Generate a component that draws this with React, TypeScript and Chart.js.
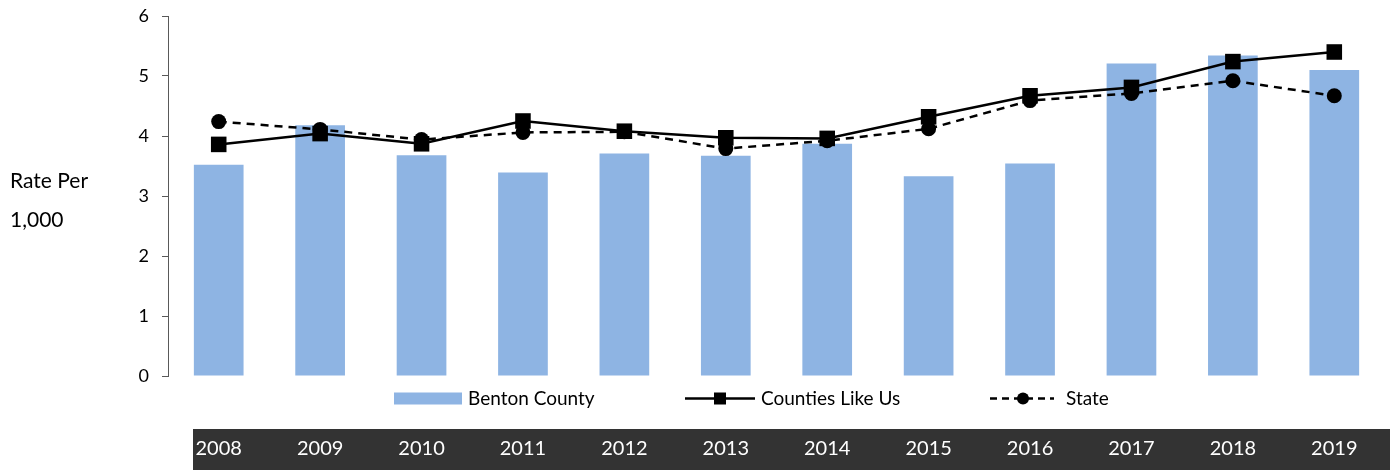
import React, { useEffect, useRef } from "react";
import { Chart, registerables } from "chart.js";

Chart.register(...registerables);

const years = ["2008", "2009", "2010", "2011", "2012", "2013", "2014", "2015", "2016", "2017", "2018", "2019"];
const bentonCounty = [3.52, 4.18, 3.68, 3.39, 3.71, 3.67, 3.87, 3.33, 3.54, 5.21, 5.34, 5.10];
const countiesLikeUs = [3.86, 4.04, 3.87, 4.25, 4.08, 3.97, 3.96, 4.32, 4.67, 4.81, 5.24, 5.40];
const stateValues = [4.24, 4.11, 3.94, 4.06, 4.07, 3.79, 3.92, 4.12, 4.59, 4.71, 4.92, 4.67];
const yTitleLines = ["Rate Per", "1,000"];

const FONT = "Lato, 'Open Sans', sans-serif";
const BAR_COLOR = "#8EB4E3";

const decorPlugin = {
  id: "decor",
  beforeDraw(chart: any) {
    const ctx = chart.ctx;
    ctx.save();
    ctx.fillStyle = "#333333";
    ctx.fillRect(193, 429, chart.width - 6 - 193, chart.height - 429);
    ctx.restore();
  },
  afterDraw(chart: any) {
    const ctx = chart.ctx;
    ctx.save();
    // y-axis title
    ctx.fillStyle = "#000";
    ctx.font = `21px ${FONT}`;
    ctx.textAlign = "left";
    ctx.textBaseline = "middle";
    ctx.fillText(yTitleLines[0], 10, 181);
    ctx.fillText(yTitleLines[1], 10, 220);

    // legend
    ctx.font = `19px ${FONT}`;
    const ly = 398.5;
    const ds = chart.data.datasets;
    // Benton County
    ctx.fillStyle = ds[0].backgroundColor;
    ctx.fillRect(394, ly - 6, 68, 12);
    ctx.fillStyle = "#000";
    ctx.fillText(ds[0].label, 468, ly);
    // Counties Like Us
    ctx.strokeStyle = "#000";
    ctx.lineWidth = 2.5;
    ctx.setLineDash([]);
    ctx.beginPath();
    ctx.moveTo(685, ly);
    ctx.lineTo(755, ly);
    ctx.stroke();
    ctx.fillRect(720 - 6, ly - 6, 12, 12);
    ctx.fillText(ds[1].label, 761, ly);
    // State
    ctx.setLineDash([7, 5]);
    ctx.beginPath();
    ctx.moveTo(990, ly);
    ctx.lineTo(1054, ly);
    ctx.stroke();
    ctx.setLineDash([]);
    ctx.beginPath();
    ctx.arc(1023, ly, 6, 0, Math.PI * 2);
    ctx.fill();
    ctx.fillText(ds[2].label, 1066, ly);
    ctx.restore();
  },
};

export default function App() {
  const canvasRef = useRef<HTMLCanvasElement | null>(null);

  useEffect(() => {
    document.body.style.margin = "0";
    const canvas = canvasRef.current;
    if (!canvas) return;
    const chart = new Chart(canvas, {
      type: "bar",
      data: {
        labels: years,
        datasets: [
          {
            type: "bar",
            label: "Benton County",
            data: bentonCounty,
            backgroundColor: BAR_COLOR,
            borderWidth: 0,
            barPercentage: 0.49,
            categoryPercentage: 1,
            order: 3,
          },
          {
            type: "line",
            label: "Counties Like Us",
            data: countiesLikeUs,
            borderColor: "#000",
            backgroundColor: "#000",
            borderWidth: 2.5,
            pointStyle: "rect",
            pointRadius: 11,
            pointBorderWidth: 0,
            tension: 0,
            order: 1,
          },
          {
            type: "line",
            label: "State",
            data: stateValues,
            borderColor: "#000",
            backgroundColor: "#000",
            borderWidth: 2.5,
            borderDash: [8, 6],
            pointStyle: "circle",
            pointRadius: 7.5,
            pointBorderWidth: 0,
            tension: 0,
            order: 2,
          },
        ],
      },
      options: {
        animation: false,
        responsive: false,
        maintainAspectRatio: false,
        layout: { padding: { top: 16, right: 4, left: 0, bottom: 0 } },
        plugins: {
          legend: { display: false },
          tooltip: { enabled: false },
        },
        scales: {
          x: {
            grid: { display: false, drawTicks: false },
            border: { display: false },
            ticks: {
              color: "#ffffff",
              font: { family: FONT, size: 20 },
              padding: 61,
              maxRotation: 0,
              autoSkip: false,
            },
            afterFit(scale: any) {
              scale.height = 94;
              scale.paddingLeft = 0;
              scale.paddingRight = 0;
            },
          },
          y: {
            min: 0,
            max: 6,
            grid: { drawOnChartArea: false, drawTicks: true, tickLength: 6, color: "#595959" },
            border: { display: true, color: "#595959", width: 1 },
            ticks: {
              stepSize: 1,
              color: "#000",
              font: { family: FONT, size: 18 },
              padding: 13,
            },
            afterFit(scale: any) {
              scale.width = 168;
              scale.paddingTop = 0;
              scale.paddingBottom = 0;
            },
          },
        },
      },
      plugins: [decorPlugin],
    });
    return () => chart.destroy();
  }, []);

  return (
    <div style={{ position: "fixed", left: 0, top: 0, width: 1396, height: 470 }}>
      <canvas ref={canvasRef} width={1396} height={470} style={{ width: 1396, height: 470 }} />
    </div>
  );
}
